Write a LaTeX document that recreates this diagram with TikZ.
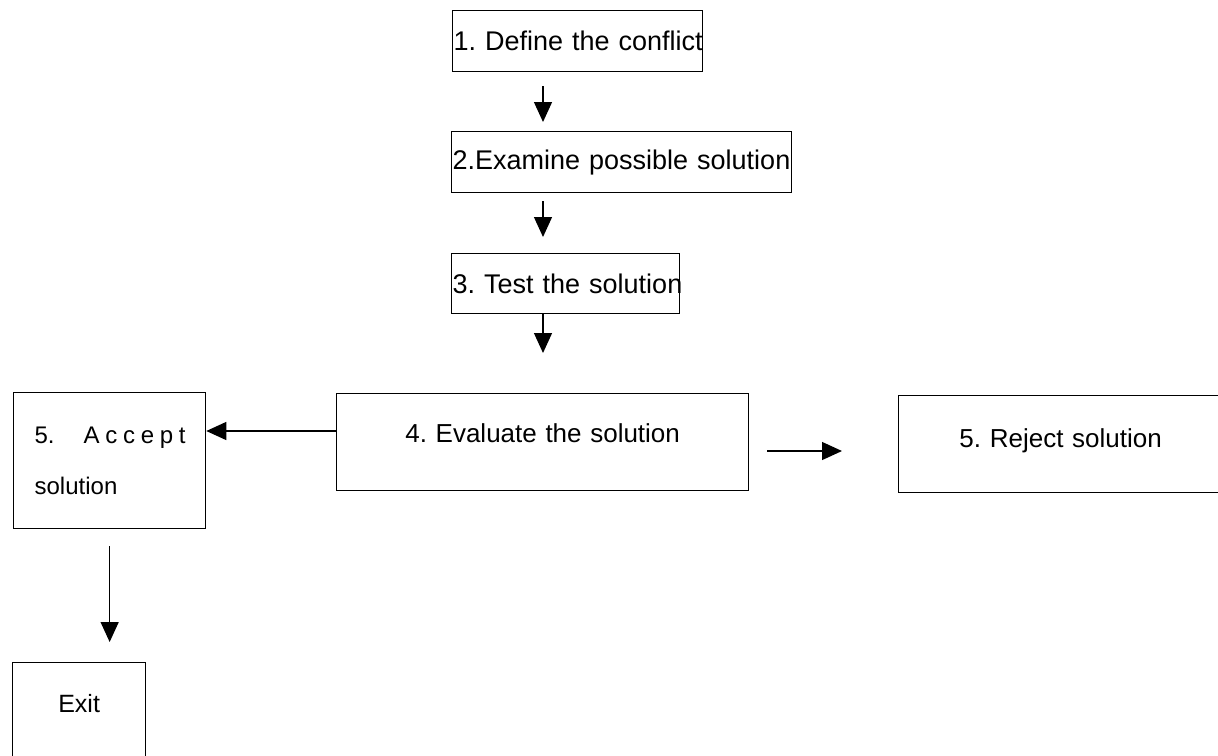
\documentclass[tikz,border=0pt]{standalone}
\usepackage{fontspec}
\setmainfont{Liberation Sans}
\usetikzlibrary{arrows.meta}
\frenchspacing
\tikzset{
  boxstep/.style={draw, line width=1.3pt, inner sep=0pt, anchor=north west},
  flowarrow/.style={line width=1.3pt, -{Triangle[length=20pt,width=18pt]}},
  bigtxt/.style={font=\fontsize{27}{30}\selectfont\frenchspacing},
  midtxt/.style={font=\fontsize{26}{30}\selectfont\frenchspacing},
}
\newcommand{\lsp}{\hspace{5.7pt}}
\begin{document}
\begin{tikzpicture}[x=1pt,y=-1pt]
\useasboundingbox[fill=white] (0,0) rectangle (1218,755);
% top column
\node[boxstep, bigtxt, minimum width=250pt, minimum height=61pt, text width=248pt, align=left, inner xsep=1pt] (b1) at (452,10) {\mbox{1. Define the conflict}};
\node[boxstep, bigtxt, minimum width=340pt, minimum height=61pt, text width=338pt, align=left, inner xsep=1pt] (b2) at (451,131) {\mbox{2.Examine possible solution}};
\node[boxstep, bigtxt, minimum width=228pt, minimum height=60pt, text width=226pt, align=left, inner xsep=1pt] (b3) at (451,253) {\mbox{3. Test the solution}};
% middle row
\node[boxstep, midtxt, text width=412pt, align=center, text height=49pt, text depth=48pt] (b4) at (336,393) {4. Evaluate the solution};
\node[boxstep, midtxt, text width=324pt, align=center, text height=52pt, text depth=45pt] (rej) at (898,395) {5. Reject solution};
\node[boxstep, font=\fontsize{24}{51}\selectfont, text width=192pt, minimum height=136pt, align=left, inner xsep=0pt, inner ysep=0pt] (acc) at (13,392)
  {\mbox{\hspace*{21pt}5.\hspace{29pt}A\lsp c\lsp c\lsp e\lsp p\lsp t}\\\mbox{\hspace*{21pt}solution}\par\vspace*{8pt}};
\node[boxstep, font=\fontsize{25}{30}\selectfont, text width=133pt, align=center, text height=50pt, text depth=50pt] (ex) at (12,662) {Exit};
% helper coordinates
\coordinate (colx) at (543,0);
\coordinate (lefty) at (0,431);
\coordinate (righty) at (0,451);
% connectors
\draw[flowarrow, shorten <=14pt, shorten >=9pt] (b1.south -| colx) -- (b2.north -| colx);
\draw[flowarrow, shorten <=8pt, shorten >=16pt] (b2.south -| colx) -- (b3.north -| colx);
\draw[flowarrow, shorten >=40pt] (b3.south -| colx) -- (b4.north -| colx);
\draw[flowarrow] (b4.west |- lefty) -- (acc.east |- lefty);
\draw[flowarrow, shorten <=18pt, shorten >=56pt] (b4.east |- righty) -- (rej.west |- righty);
\draw[flowarrow, shorten <=17pt, shorten >=20pt] (acc.south) -- (acc.south |- ex.north);
\end{tikzpicture}
\end{document}
